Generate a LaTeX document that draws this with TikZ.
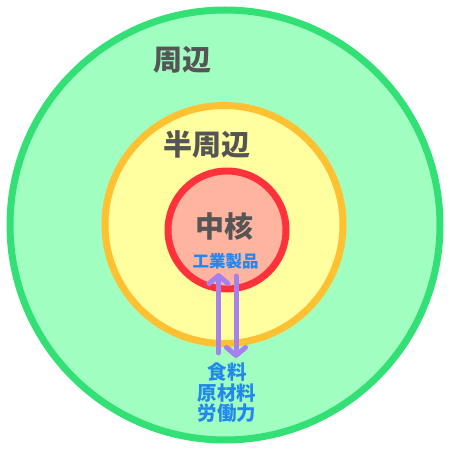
\documentclass[tikz,border=0pt]{standalone}
\usepackage{fontspec}
\setmainfont{Noto Sans CJK JP}
\usetikzlibrary{arrows.meta}
\definecolor{outerfill}{RGB}{160,255,192}
\definecolor{outerline}{RGB}{50,224,118}
\definecolor{semifill}{RGB}{255,255,160}
\definecolor{semiline}{RGB}{255,192,50}
\definecolor{corefill}{RGB}{255,180,160}
\definecolor{coreline}{RGB}{255,50,60}
\definecolor{labelgray}{RGB}{85,85,85}
\definecolor{labelblue}{RGB}{34,136,238}
\definecolor{arrowpurple}{RGB}{166,128,238}
\tikzset{
  zone/.style={font=\fontsize{29}{32}\selectfont\bfseries, text=labelgray, inner sep=0pt},
  flow/.style={text=labelblue, inner sep=0pt, align=center},
  trade/.style={line width=5pt, color=arrowpurple, line cap=round,
    -{Straight Barb[round, length=8pt, width=19pt]}}
}
\begin{document}
\begin{tikzpicture}[x=1pt, y=1pt]
		%%%%% START %%%%%
		\useasboundingbox (0, 0) rectangle (450, 469);
		
		\draw[line width=7pt, color=outerline, fill=outerfill] (225, 244) circle (215);
		\draw[line width=7pt, color=semiline, fill=semifill] (224, 244.5) circle (119);
		\draw[line width=7pt, color=coreline, fill=corefill] (227, 239) circle (59);
		
		\node[zone] (periphery) at (182.5, 409) {周辺};
		\node[zone] (semi) at (207, 324) {半周辺};
		\node[zone] (core) at (224, 242) {中核};
		
		\node[flow, font=\fontsize{16.5}{18}\selectfont\bfseries] (goods) at (225.5, 208) {工業製品};
		\node[flow, font=\fontsize{19.5}{20.5}\selectfont\bfseries] (inputs) at (227, 76) {食料\\原材料\\労働力};
		
		\draw[trade] ([xshift=-8.5pt, yshift=10pt]inputs.north) -- ([xshift=-7pt, yshift=-4pt]goods.south);
		\draw[trade] ([xshift=10.5pt, yshift=-7pt]goods.south) -- ([xshift=9pt, yshift=5pt]inputs.north);
		
		%%%%% END %%%%%
	\end{tikzpicture}
\end{document}
